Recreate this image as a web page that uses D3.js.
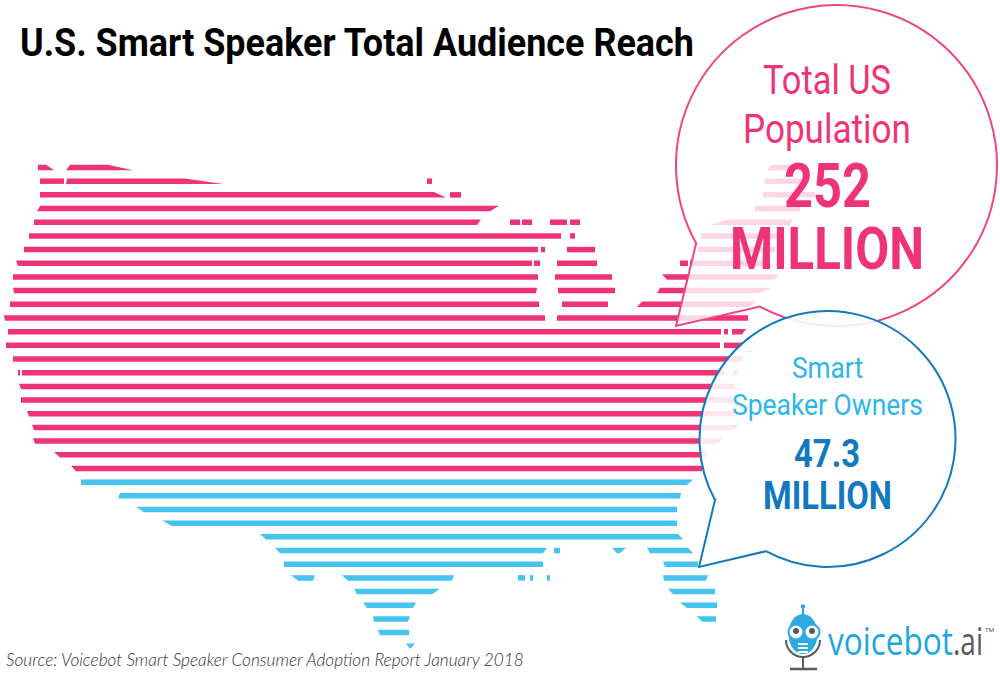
<!DOCTYPE html>
<html>
<head>
<meta charset="utf-8">
<title>U.S. Smart Speaker Total Audience Reach</title>
<script src="https://cdn.jsdelivr.net/npm/d3@7"></script>
<style>
    html, body { margin: 0; padding: 0; background: #fff; }
    svg { display: block; }
    text { font-family: Roboto, sans-serif; }
</style>
</head>
<body>
<div id="chart"></div>
<script>
// chart text
var chartTitle = "U.S. Smart Speaker Total Audience Reach";
var sourceNote = "Source: Voicebot Smart Speaker Consumer Adoption Report January 2018";
var totalLabel = ["Total US", "Population"];
var totalValue = ["252", "MILLION"];
var ownerLabel = ["Smart", "Speaker Owners"];
var ownerValue = ["47.3", "MILLION"];

// the map is a stack of striped rows, each row holds the land spans read off the picture
// one span = [left, right, left shift at bottom edge, right shift at bottom edge] in map units
var populationRows = [
    [[38, 46, 0, 8], [70, 108, -4, 25], [772, 795, -5, 0]],
    [[40, 64], [67, 185, -1, 38], [427, 432], [765, 805]],
    [[40, 434, 0, 12], [450, 461], [763, 815]],
    [[40, 499, -3, -9], [755, 800]],
    [[34, 481, 0, -4], [510, 520], [522, 532], [550, 567], [570, 580], [728, 793, -18, -3]],
    [[29, 561], [570, 575], [701, 780]],
    [[24, 538], [541, 545], [567, 595], [698, 775]],
    [[16, 532, 2, 0], [534, 540], [557, 597], [680, 688], [690, 770]],
    [[13, 538], [555, 612], [662, 778, 5, -3]],
    [[13, 537, 1, -1], [558, 615], [660, 772, -3, -14]],
    [[10, 539], [562, 608], [642, 757, -5, -8]],
    [[4, 545, 1, 0], [557, 748]],
    [[8, 721], [724, 728], [732, 746, 0, -4]],
    [[6, 720], [724, 742]],
    [[13, 742]],
    [[18, 20], [22, 724], [733, 738]],
    [[19, 735, 2, 0]],
    [[21, 733]],
    [[27, 735, 2, 0]],
    [[32, 740, 2, -7]],
    [[33, 722, 2, -4]],
    [[54, 708, 6, -3]],
    [[71, 702, 5, 0]]
];

var ownerRows = [
    [[81, 693, 0, -6]],
    [[120, 681, -2, -1]],
    [[136, 677, 8, 0]],
    [[162, 677, 10, 0]],
    [[260, 678, 6, 5]],
    [[275, 547, 5, -4], [554, 560], [612, 626, 5, -6], [647, 688, 3, 5]],
    [[284, 543], [663, 698, 2, 0]],
    [[291, 315, 7, -2], [342, 454, 6, -2], [518, 525], [530, 533], [547, 550], [663, 708, 1, -2]],
    [[354, 440, 3, -8], [668, 715, 5, 0]],
    [[363, 416, 4, -3], [680, 717, 7, 0]],
    [[373, 410, 1, -2], [697, 716, 5, 0]],
    [[378, 409, 2, 0]],
    [[406, 415, 4, -5]]
];

// define svg area dimensions
var svgWidth = 1000;
var svgHeight = 673;
var stripeHeight = 5.5;

var pink = "#ef3379";
var skyBlue = "#45c4f0";
var darkBlue = "#1279c1";
var lightBlue = "#2eb5ea";

var svg = d3.select("#chart")
    .append("svg")
    .attr("width", svgWidth)
    .attr("height", svgHeight);

// scales from map units and row numbers to the page
var rowCount = populationRows.length + ownerRows.length;
var xScale = d3.scaleLinear().domain([0, 1000]).range([0, svgWidth]);
var yScale = d3.scaleLinear().domain([0, rowCount - 1]).range([167.5, 646.3]);

// one row record per span, blue rows carry on numbering after the pink ones
function toSpans(rows, startRow, color) {
    var spans = [];
    rows.forEach(function(row, i) {
        row.forEach(function(s) {
            spans.push({row: startRow + i, left: s[0], right: s[1], dl: s[2] || 0, dr: s[3] || 0, color: color});
        });
    });
    return spans;
}

var allSpans = toSpans(populationRows, 0, pink).concat(toSpans(ownerRows, populationRows.length, skyBlue));

function spanPath(d) {
    var top = yScale(d.row) - stripeHeight / 2;
    var bottom = yScale(d.row) + stripeHeight / 2;
    return d3.line()([
        [xScale(d.left), top],
        [xScale(d.right), top],
        [xScale(d.right + d.dr), bottom],
        [xScale(d.left + d.dl), bottom]
    ]) + "Z";
}

svg.append("g")
    .selectAll("path")
    .data(allSpans)
    .enter()
    .append("path")
    .attr("d", spanPath)
    .attr("fill", d => d.color);

// speech balloon = circle with a pointed tail at its lower left
function balloon(cx, cy, r, from, tip, to, stroke, fillOpacity) {
    var path = d3.path();
    var a0 = Math.atan2(from[1] - cy, from[0] - cx);
    var a1 = Math.atan2(to[1] - cy, to[0] - cx);
    path.moveTo(tip[0], tip[1]);
    path.lineTo(from[0], from[1]);
    path.arc(cx, cy, r, a0, a1, false);
    path.closePath();
    svg.append("path")
        .attr("d", path.toString())
        .attr("fill", "#fff")
        .attr("fill-opacity", fillOpacity)
        .attr("stroke", stroke)
        .attr("stroke-width", 2)
        .attr("stroke-linejoin", "miter");
}

// text squeezed to the measured width, the original face is a condensed one
function addText(label, x, y, width, size, weight, color, family, fontStyle) {
    var text = svg.append("text")
        .attr("font-size", size)
        .attr("font-weight", weight)
        .attr("font-style", fontStyle || "normal")
        .attr("fill", color)
        .text(label);
    if (family) {
        text.style("font-family", family);
    }
    var natural = text.node().getComputedTextLength();
    text.attr("transform", `translate(${x}, ${y}) scale(${width / natural}, 1)`);
    return text;
}

balloon(836.5, 165.5, 160.5, [696, 244], [676, 326], [760, 306.5], "#ee4585", 0.8);
addText(totalLabel[0], 763, 94, 128, 41, 400, pink);
addText(totalLabel[1], 743, 143, 168, 41, 400, pink);
addText(totalValue[0], 784, 207, 87, 61, 700, pink);
addText(totalValue[1], 730, 269, 194, 59, 700, pink);

balloon(827.5, 439, 128, [715, 500], [699, 567], [766, 551], darkBlue, 0.88);
addText(ownerLabel[0], 792, 378, 71, 30, 400, lightBlue);
addText(ownerLabel[1], 732, 415, 191, 30, 400, lightBlue);
addText(ownerValue[0], 794, 467, 66, 39.5, 700, darkBlue);
addText(ownerValue[1], 763, 509, 129, 39.5, 700, darkBlue);

// title and source
addText(chartTitle, 20, 56, 674, 39, 700, "#000");
addText(sourceNote, 6, 665.5, 518, 17, 300, "#333", "Lato, sans-serif", "italic");

// voicebot.ai logo
var logo = svg.append("g");
var logoBlue = "#29abe2";
var logoGray = "#58595b";

logo.append("path")
    .attr("d", d3.arc()({innerRadius: 16, outerRadius: 18, startAngle: Math.PI / 2, endAngle: Math.PI * 1.5}))
    .attr("transform", "translate(803,640)")
    .attr("fill", logoGray);
logo.append("line").attr("x1", 803).attr("x2", 803).attr("y1", 657).attr("y2", 668)
    .attr("stroke", logoGray).attr("stroke-width", 2);
logo.append("line").attr("x1", 790).attr("x2", 817).attr("y1", 669).attr("y2", 669)
    .attr("stroke", logoGray).attr("stroke-width", 2.5);
logo.append("line").attr("x1", 803).attr("x2", 803).attr("y1", 607).attr("y2", 616)
    .attr("stroke", logoBlue).attr("stroke-width", 2);
logo.append("circle").attr("cx", 803).attr("cy", 606.5).attr("r", 2.2).attr("fill", logoBlue);
logo.append("ellipse").attr("cx", 803).attr("cy", 634).attr("rx", 14.5).attr("ry", 20).attr("fill", logoBlue);

[796, 812].forEach(function(cx) {
    logo.append("circle").attr("cx", cx).attr("cy", 632).attr("r", 7.5)
        .attr("fill", "#fff").attr("stroke", logoBlue).attr("stroke-width", 2);
    logo.append("circle").attr("cx", cx).attr("cy", 631).attr("r", 3).attr("fill", logoGray);
});

[644, 648, 652].forEach(function(y) {
    logo.append("rect").attr("x", 798).attr("y", y - 1).attr("width", 10).attr("height", 2).attr("fill", "#fff");
});

addText("voicebot", 828, 655, 125, 38, 400, "#1ca6de", "'Open Sans', sans-serif");
addText(".ai", 953, 655, 30, 38, 400, logoGray, "'Open Sans', sans-serif");
addText("TM", 985, 632, 9, 6, 400, logoGray);
</script>
</body>
</html>
